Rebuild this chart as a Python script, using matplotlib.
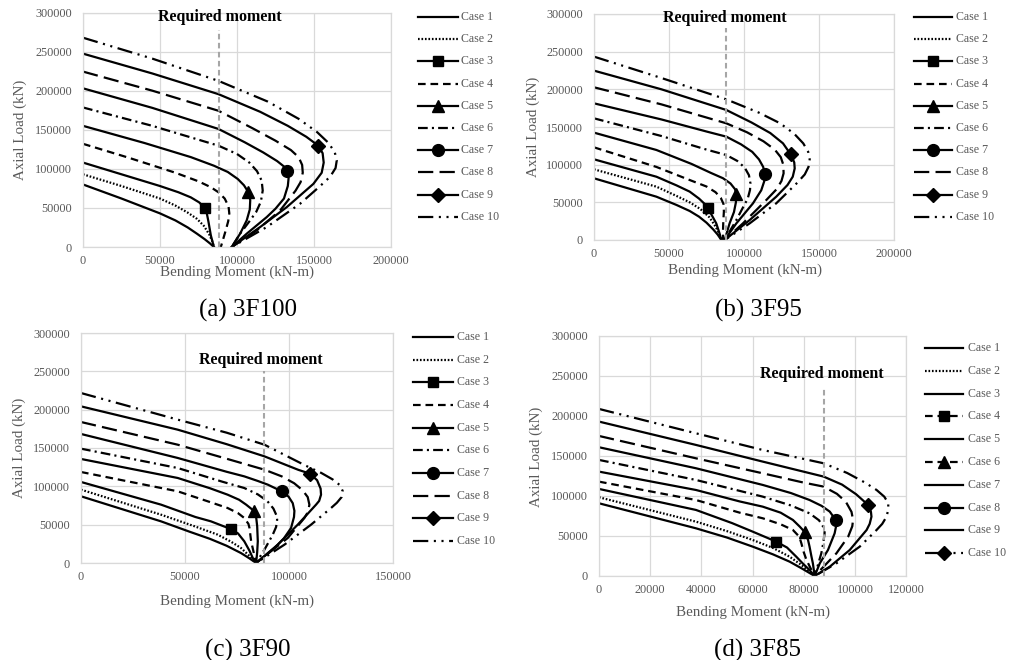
import matplotlib
matplotlib.use('Agg')
import matplotlib.pyplot as plt
from matplotlib.lines import Line2D
from matplotlib.ticker import StrMethodFormatter

plt.rcParams['font.family'] = ['Liberation Serif', 'DejaVu Serif']
plt.rcParams['lines.scale_dashes'] = False

W, H = 1012, 660
fig = plt.figure(figsize=(W / 100, H / 100), dpi=100)

CASES = [f'Case {i}' for i in range(1, 11)]
PANELS = ['(a) 3F100', '(b) 3F95', '(c) 3F90', '(d) 3F85']
REQ_MOMENT = 88000
REQ_TOP = [277000, 281000, 250000, 236000]
REQ_TEXT_XY = [(89000, 294000), (87300, 294300), (86600, 265200), (86900, 252000)]
X_MAX = [200000, 200000, 150000, 120000]
X_STEP = [50000, 50000, 50000, 20000]

# ---------------- (a) 3F100 ----------------
M_3F100 = [
    [0, 25000, 50000, 60000, 68000, 74000, 79000, 82500, 85000],
    [0, 25000, 50000, 60000, 68000, 74000, 78500, 82000, 84000, 85000],
    [0, 25000, 50000, 62000, 70000, 75500, 79000, 80500, 81500, 83000, 85000],
    [0, 30000, 60000, 75000, 83000, 88000, 92000, 94500, 95000, 94300, 92500, 91000, 89500],
    [0, 40000, 70000, 85000, 94000, 100500, 104500, 107400, 108600, 108300, 106300, 102000, 96600],
    [0, 45000, 88000, 100000, 108000, 113000, 116000, 116700, 115500, 112500, 108500, 102000, 96600],
    [0, 45000, 88000, 105000, 117000, 126000, 130500, 132700, 133500, 133000, 130500, 125000,
     119300, 106300, 96600],
    [0, 45000, 88000, 110000, 125000, 135000, 140000, 142300, 142700, 141300, 138000, 128000,
     112800, 96600],
    [0, 45000, 88000, 115000, 133000, 145000, 152800, 155600, 156300, 155000, 149600, 132300,
     115000, 96600],
    [0, 45000, 88000, 120000, 140000, 152000, 159500, 163500, 164800, 164000, 160500, 154000,
     140900, 119300, 96600],
]
P_3F100 = [
    [80000, 62000, 43000, 34000, 25000, 17000, 10000, 4500, 0],
    [93000, 78000, 62000, 53000, 44000, 36000, 27000, 16000, 7000, 0],
    [108000, 93000, 78000, 70000, 63500, 57000, 50000, 42000, 32000, 15000, 0],
    [132000, 114000, 95000, 84000, 76500, 70000, 62000, 52000, 43000, 33000, 20000, 10000, 0],
    [155000, 133000, 115000, 104000, 96000, 87000, 79000, 70100, 60000, 48000, 34000, 17000, 0],
    [178500, 155000, 129600, 119000, 108000, 97000, 85000, 72250, 58000, 45000, 34000, 17000, 0],
    [203000, 178000, 151000, 134000, 121000, 110000, 103000, 96900, 88000, 78000, 62000, 49000,
     38250, 17000, 0],
    [224400, 200000, 174250, 152000, 136000, 124000, 115000, 105000, 95000, 83000, 72000, 46750,
     21250, 0],
    [247350, 222000, 195500, 173000, 155000, 141000, 129600, 120000, 108000, 95000, 80750, 51000,
     25500, 0],
    [267750, 241000, 212500, 186000, 164000, 147000, 133000, 121000, 111000, 101000, 90000, 78000,
     55250, 25500, 0],
]
MK_M_3F100 = [79000, 107400, 132700, 152800]
MK_P_3F100 = [50000, 70100, 96900, 129600]

# ---------------- (b) 3F95 ----------------
M_3F95 = [
    [0, 41600, 55000, 63800, 70000, 75000, 79500, 82500, 84900],
    [0, 41600, 55000, 63800, 71000, 77000, 81000, 83500, 84900],
    [0, 41600, 55000, 63800, 70000, 74000, 76000, 78500, 81500, 83500, 84900],
    [0, 41600, 62000, 75000, 81000, 84500, 86300, 86600, 86200, 86000, 86000],
    [0, 41600, 65000, 78000, 86000, 91000, 94000, 94900, 94600, 93300, 90400, 87100],
    [0, 45000, 75000, 88200, 95500, 100500, 103300, 104300, 104000, 102500, 99000, 94900, 87100],
    [0, 45000, 75000, 88200, 98000, 105500, 110000, 112800, 113800, 113500, 111500, 106000,
     94900, 87100],
    [0, 45000, 88200, 102000, 113000, 120500, 124500, 126200, 126400, 125000, 122000, 114900,
     99300, 87100],
    [0, 45000, 88200, 105000, 117500, 126000, 131100, 133500, 133800, 132500, 129000, 121500,
     103800, 87100],
    [0, 45000, 88200, 110000, 124000, 133500, 139500, 142800, 143800, 143000, 140500, 135500,
     121500, 103800, 87100],
]
P_3F95 = [
    [81900, 57500, 46500, 38500, 31000, 23000, 14000, 7000, 0],
    [93800, 70800, 58500, 50000, 41000, 30000, 18000, 8000, 0],
    [107100, 84000, 72500, 64200, 55000, 47500, 42000, 33000, 22100, 10000, 0],
    [123000, 97000, 81000, 71000, 63500, 56000, 48000, 38000, 25000, 12000, 0],
    [142500, 119500, 101000, 89000, 82000, 75000, 67500, 61000, 50000, 37000, 22100, 0],
    [161500, 138000, 120000, 112800, 105000, 96000, 86000, 75000, 66400, 55000, 42000, 26500, 0],
    [181400, 160000, 144000, 137200, 127000, 117000, 107000, 97000, 87600, 78000, 66000, 48700,
     22100, 0],
    [202700, 180000, 154900, 143000, 131000, 120000, 110000, 100000, 88500, 78500, 68000, 53100,
     22100, 0],
    [224800, 200000, 172600, 156000, 142000, 128300, 113700, 103000, 95000, 84000, 73000, 57500,
     26500, 0],
    [243400, 215000, 186700, 169000, 155000, 141000, 128300, 117000, 107000, 97000, 87000, 76000,
     48700, 22100, 0],
]
MK_M_3F95 = [76000, 94900, 113800, 131100]
MK_P_3F95 = [42000, 61000, 87600, 113700]

# ---------------- (c) 3F90 ----------------
M_3F90 = [
    [0, 38500, 52000, 62000, 70000, 76900, 81000, 84200],
    [0, 38500, 55000, 65700, 72000, 76900, 80500, 82600, 84200],
    [0, 38500, 55000, 62500, 68000, 72100, 75500, 78500, 81000, 82600, 84200],
    [0, 46500, 62000, 70500, 75500, 78500, 80500, 81000, 81400, 81800, 83000, 84200],
    [0, 46500, 62000, 70500, 76000, 79400, 83000, 84200, 84700, 85000, 84700, 84200],
    [0, 46500, 68000, 78500, 85000, 89500, 92500, 94000, 94300, 93800, 92200, 88200, 84200],
    [0, 46500, 70000, 78500, 85000, 89800, 96500, 99800, 101800, 102600, 102400, 101000, 97500,
     93000, 84200],
    [0, 46500, 70000, 88200, 96500, 102500, 106500, 109000, 109800, 109200, 107400, 99400, 84200],
    [0, 46500, 70000, 88200, 98000, 104500, 110100, 113500, 115200, 115400, 114500, 113000,
     104200, 94600, 84200],
    [0, 46500, 70000, 88200, 100000, 108000, 115500, 121000, 124500, 125800, 125300, 123000,
     120200, 110600, 97800, 84200],
]
P_3F90 = [
    [87000, 54300, 41000, 31500, 22500, 13000, 6000, 0],
    [95700, 63000, 47500, 37000, 28000, 19600, 10500, 4300, 0],
    [105700, 76100, 60000, 54300, 48500, 44300, 38500, 28300, 16000, 6500, 0],
    [118700, 93500, 79500, 71700, 65000, 58700, 51000, 45700, 37000, 28300, 14000, 0],
    [135700, 110900, 97500, 89100, 82500, 76100, 68300, 60000, 48000, 28300, 14000, 0],
    [149100, 123900, 106000, 97800, 89500, 81000, 71000, 62000, 56500, 47000, 37000, 17400, 0],
    [168300, 137000, 119000, 113000, 107000, 102200, 93500, 86500, 78000, 68000, 60000, 45700,
     32000, 19600, 0],
    [183900, 154300, 136000, 121700, 113000, 104000, 95000, 86000, 76100, 67000, 58700, 32600, 0],
    [204300, 173900, 155000, 139100, 128500, 121500, 116500, 108000, 97000, 89100, 81000, 76100,
     50000, 23900, 0],
    [221700, 187000, 170000, 154300, 138000, 127000, 117500, 109000, 101500, 94000, 86000, 78500,
     71700, 50000, 23900, 0],
]
MK_M_3F90 = [72100, 83000, 96500, 110100]
MK_P_3F90 = [44300, 68300, 93500, 116500]

# ---------------- (d) 3F85 ----------------
M_3F85 = [
    [0, 37900, 50000, 60100, 68000, 74500, 79500, 84300],
    [0, 37900, 50000, 60100, 68000, 74500, 79000, 82300, 84300],
    [0, 37900, 52000, 60100, 65500, 69300, 73500, 77100, 80000, 82300, 84300],
    [0, 37900, 55000, 64000, 71000, 75800, 78300, 79100, 80000, 81100, 82800, 84300],
    [0, 37900, 55000, 64000, 71000, 75800, 78500, 80500, 81700, 82300, 83000, 83600, 84300],
    [0, 37900, 64000, 75000, 82300, 86000, 87600, 88200, 88000, 87600, 86900, 85500, 84300],
    [0, 37900, 64000, 75000, 82300, 87000, 90200, 92500, 92600, 92100, 89500, 86300, 84300],
    [0, 37900, 64000, 80000, 87800, 93000, 96500, 98700, 99300, 99000, 97400, 92800, 84300],
    [0, 37900, 64000, 87800, 95000, 100500, 105200, 106300, 106500, 105800, 104600, 98000,
     90200, 84300],
    [0, 37900, 64000, 87800, 97000, 104000, 108500, 111500, 113100, 113000, 112400, 110700,
     108500, 101900, 92800, 84300],
]
P_3F85 = [
    [90700, 59500, 48000, 36600, 27000, 17900, 9000, 0],
    [98200, 67800, 56000, 44900, 35000, 24100, 14000, 5400, 0],
    [108600, 82400, 66000, 55300, 48000, 42800, 35500, 24100, 14500, 7500, 0],
    [117700, 94800, 79000, 72000, 64500, 57400, 49000, 40800, 30000, 20000, 9000, 0],
    [130200, 107300, 93000, 86500, 79000, 69900, 61500, 54500, 45000, 36600, 25000, 15800, 0],
    [144800, 119800, 99000, 88000, 78200, 69500, 61600, 54000, 49100, 40000, 28300, 13000, 0],
    [160600, 134400, 113600, 103500, 94800, 87500, 80300, 69900, 61000, 53200, 32400, 15800, 0],
    [174700, 146800, 128100, 116500, 111500, 102500, 92500, 80000, 70000, 62000, 49100, 28300, 0],
    [192600, 163500, 142700, 124000, 114000, 102000, 88600, 80000, 74000, 65000, 57400, 32400,
     11600, 0],
    [208400, 178000, 157200, 140600, 128500, 116500, 107300, 99000, 90700, 82000, 74000, 65000,
     57400, 36600, 15800, 0],
]
MK_M_3F85 = [69300, 80500, 92500, 105200]
MK_P_3F85 = [42800, 54500, 69900, 88600]

MARKED_CASES = [3, 5, 7, 9]

# ---------------- styles ----------------
DOT = (0, (1.2, 1.3))
DASH = (0, (5.5, 3.5))
DASHDOT = (0, (7, 3, 1.5, 3))
LONGDASH = (0, (11, 4.5))
LDASHDOTDOT = (0, (11, 4, 1.5, 4, 1.5, 4))
LS = ['-', DOT, '-', DASH, '-', DASHDOT, '-', LONGDASH, '-', LDASHDOTDOT]
MK = [None, None, 's', None, '^', None, 'o', None, 'D', None]
LS_D = ['-', DOT, '-', DASH, '-', DASH, '-', '-', '-', LDASHDOTDOT]
MK_D = [None, None, None, 's', None, '^', None, 'o', None, 'D']
MSIZE = {'s': 7.5, '^': 8.5, 'o': 8.5, 'D': 7}

GRAY = '#595959'
GRID = '#d9d9d9'


def px_rect(l, t, r, b):
    return [l / W, 1 - b / H, (r - l) / W, (b - t) / H]


def fx(x):
    return x / W


def fy(y):
    return 1 - y / H


AX_PX = [(83, 12.5, 391, 247), (594, 14, 894, 240), (81, 333, 393, 563), (599, 335.5, 906, 576)]
XLAB_PX = [(237, 272), (745, 270), (237, 601), (753, 612)]
YLAB_PX = [(20, 130), (533, 127), (19, 448), (536, 457)]
CAP_PX = [(248, 310), (758, 310), (248, 650), (758, 650)]
LEG_PX = [(418, 458, 461, 17, 22.2), (914, 952, 956, 17, 22.2),
          (413, 453, 457, 337, 22.67), (925, 963, 968, 348, 22.8)]

DATA_M = [M_3F100, M_3F95, M_3F90, M_3F85]
DATA_P = [P_3F100, P_3F95, P_3F90, P_3F85]
MKM = [MK_M_3F100, MK_M_3F95, MK_M_3F90, MK_M_3F85]
MKP = [MK_P_3F100, MK_P_3F95, MK_P_3F90, MK_P_3F85]

for k in range(4):
    ax = fig.add_axes(px_rect(*AX_PX[k]))
    ax.set_xlim(0, X_MAX[k])
    ax.set_ylim(0, 300000)
    ax.set_xticks(list(range(0, X_MAX[k] + 1, X_STEP[k])))
    ax.set_yticks(list(range(0, 300001, 50000)))
    ax.xaxis.set_major_formatter(StrMethodFormatter('{x:.0f}'))
    ax.yaxis.set_major_formatter(StrMethodFormatter('{x:.0f}'))
    ax.tick_params(length=0, labelsize=8.8, labelcolor=GRAY)
    ax.tick_params(axis='y', pad=8)
    ax.tick_params(axis='x', pad=5.5)
    ax.grid(True, color=GRID, lw=0.9)
    ax.set_axisbelow(True)
    for s in ax.spines.values():
        s.set_color(GRID)
        s.set_linewidth(0.9)

    for i in range(10):
        ax.plot(DATA_M[k][i], DATA_P[k][i], color='black', lw=1.6, ls=LS[i],
                solid_joinstyle='round', dash_joinstyle='round', label=CASES[i])
    for j, c in enumerate(MARKED_CASES):
        m = MK[c - 1]
        ax.plot([MKM[k][j]], [MKP[k][j]], ls='none', marker=m, ms=MSIZE[m],
                color='black', zorder=5)

    ax.plot([REQ_MOMENT, REQ_MOMENT], [0, REQ_TOP[k]], color='#a6a6a6', lw=1.5,
            ls=(0, (4, 2.5)), zorder=4)
    ax.text(REQ_TEXT_XY[k][0], REQ_TEXT_XY[k][1], 'Required moment', ha='center',
            va='center', fontsize=11.5, fontweight='bold', clip_on=False)

    ax.set_xlabel('Bending Moment (kN-m)', fontsize=10.8, color=GRAY)
    ax.set_ylabel('Axial Load (kN)', fontsize=10.8, color=GRAY)
    l, t, r, b = AX_PX[k]
    xl, yl = XLAB_PX[k]
    ax.xaxis.set_label_coords((xl - l) / (r - l), (b - yl) / (b - t))
    ax.xaxis.label.set_va('center')
    xl, yl = YLAB_PX[k]
    ax.yaxis.set_label_coords((xl - l) / (r - l), (b - yl) / (b - t))
    ax.yaxis.label.set_va('center')

    fig.text(fx(CAP_PX[k][0]), fy(CAP_PX[k][1]), PANELS[k], ha='center', va='center',
             fontsize=18, color='black')

    # legend (drawn row by row to match the original layout)
    x1, x2, xt, y0, dy = LEG_PX[k]
    styles = (LS_D, MK_D) if k == 3 else (LS, MK)
    for i in range(10):
        yy = fy(y0 + i * dy)
        fig.add_artist(Line2D([fx(x1), fx(x2)], [yy, yy], color='black', lw=1.6,
                              ls=styles[0][i]))
        m = styles[1][i]
        if m:
            fig.add_artist(Line2D([fx((x1 + x2) / 2)], [yy], ls='none', marker=m,
                                  ms=MSIZE[m], color='black'))
        fig.text(fx(xt), yy, CASES[i], ha='left', va='center', fontsize=8.6, color=GRAY)

fig.savefig('out.png', dpi=100)
